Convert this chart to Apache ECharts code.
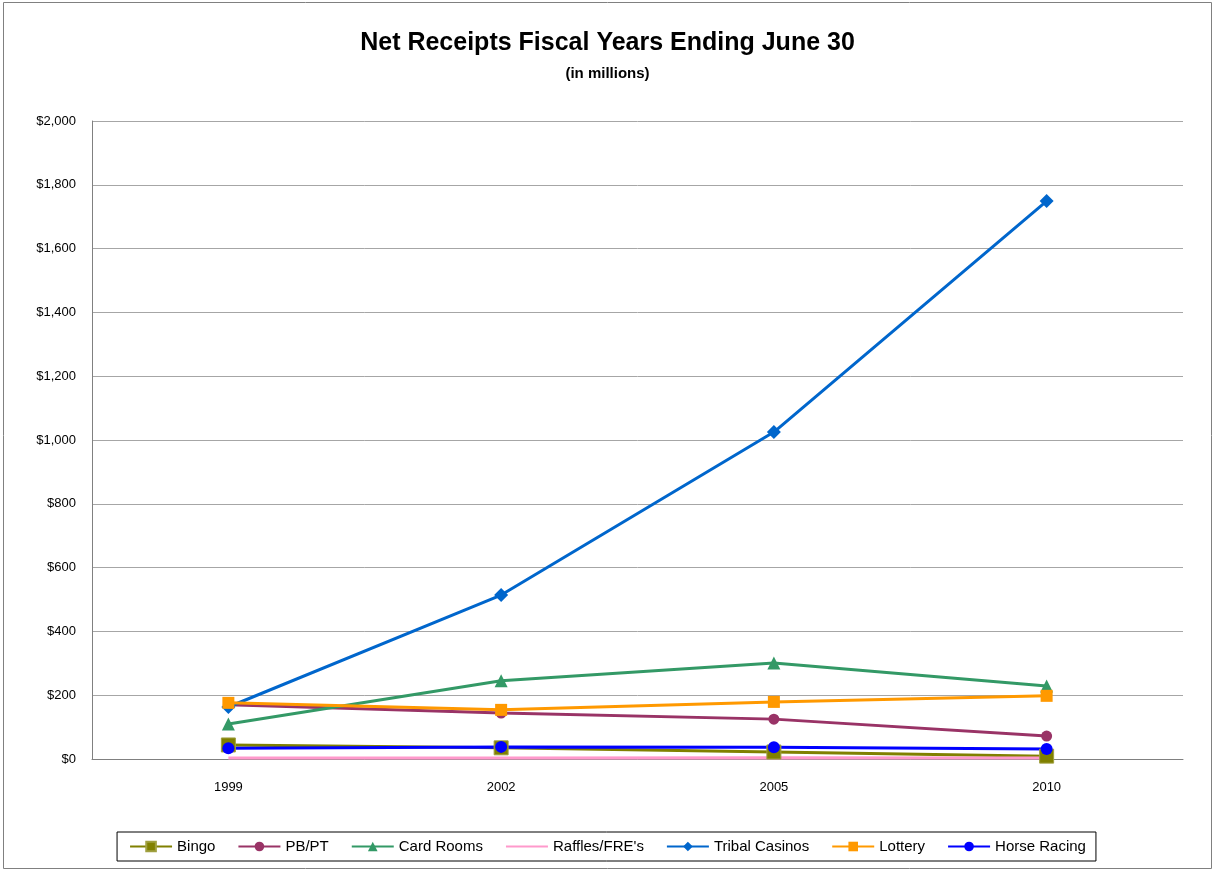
<!DOCTYPE html>
<html>
<head>
<meta charset="utf-8">
<script src="https://cdn.jsdelivr.net/npm/echarts@6/dist/echarts.min.js"></script>
<style>
  html, body { margin: 0; padding: 0; background: #fff; }
  #chart { width: 1215px; height: 871px; }
</style>
</head>
<body>
<div id="chart"></div>
<script>
// Fiscal years (category axis)
const years = ['1999', '2002', '2005', '2010'];

// Net receipts per gaming category, in millions of dollars
const bingo        = [44, 35, 22, 9];
const pbpt         = [170, 144, 125, 72];
const cardRooms    = [110, 245, 301, 229];
const raffles      = [3, 3, 4, 3];
const tribalCasino = [163, 514, 1025, 1749];
const lottery      = [176, 154, 179, 198];
const horseRacing  = [34, 38, 37, 31];

// Y axis ticks
const yMin = 0, yMax = 2000, yStep = 200;

const FONT = '"Liberation Sans", "Open Sans", sans-serif';

function lineSeries(name, data, color, symbol, size, extra) {
  return Object.assign({
    name: name,
    type: 'line',
    data: data,
    symbol: symbol,
    symbolSize: size,
    showAllSymbol: true,
    lineStyle: { color: color, width: 3 },
    itemStyle: { color: color, borderWidth: 0 },
    emphasis: { disabled: true },
    animation: false
  }, extra || {});
}

const chart = echarts.init(document.getElementById('chart'), null, { renderer: 'canvas' });

chart.setOption({
  backgroundColor: '#ffffff',
  animation: false,
  title: {
    text: 'Net Receipts Fiscal Years Ending June 30',
    subtext: '(in millions)',
    left: 'center',
    top: 26,
    itemGap: 10,
    textStyle: { fontFamily: FONT, fontSize: 25, fontWeight: 'bold', color: '#000' },
    subtextStyle: { fontFamily: FONT, fontSize: 15, fontWeight: 'bold', color: '#000' }
  },
  graphic: [{
    type: 'rect',
    shape: { x: 3.5, y: 2.5, width: 1208, height: 866 },
    style: { fill: 'none', stroke: '#808080', lineWidth: 1 },
    silent: true,
    z: -1
  }],
  grid: { left: 92, right: 32, top: 121, bottom: 112, containLabel: false },
  xAxis: {
    type: 'category',
    data: years,
    boundaryGap: true,
    axisLine: { show: true, lineStyle: { color: '#808080', width: 1 } },
    axisTick: { show: false },
    axisLabel: { fontFamily: FONT, fontSize: 13, color: '#000', margin: 22 }
  },
  yAxis: {
    type: 'value',
    min: yMin,
    max: yMax,
    interval: yStep,
    axisLine: { show: true, lineStyle: { color: '#808080', width: 1 } },
    axisTick: { show: false },
    splitLine: { show: true, lineStyle: { color: '#a6a6a6', width: 1 } },
    axisLabel: {
      fontFamily: FONT, fontSize: 13, color: '#000', margin: 16,
      formatter: v => '$' + v.toLocaleString('en-US')
    }
  },
  legend: {
    bottom: 10,
    left: 'center',
    itemWidth: 42,
    itemHeight: 12,
    itemGap: 22,
    padding: [7, 10, 7, 12],
    borderColor: '#000',
    borderWidth: 1,
    textStyle: { fontFamily: FONT, fontSize: 15, color: '#000' },
    data: [
      'Bingo', 'PB/PT', 'Card Rooms',
      { name: "Raffles/FRE's", itemStyle: { opacity: 0 } },
      'Tribal Casinos', 'Lottery', 'Horse Racing'
    ]
  },
  series: [
    lineSeries('Bingo', bingo, '#808000', 'rect', 14, { itemStyle: { color: '#808000', borderColor: '#a0a040', borderWidth: 1 } }),
    lineSeries('PB/PT', pbpt, '#993366', 'circle', 11),
    lineSeries('Card Rooms', cardRooms, '#339966', 'triangle', 13),
    lineSeries("Raffles/FRE's", raffles, '#FF99CC', 'none', 0),
    lineSeries('Tribal Casinos', tribalCasino, '#0066CC', 'diamond', 14),
    lineSeries('Lottery', lottery, '#FF9900', 'rect', 12),
    lineSeries('Horse Racing', horseRacing, '#0000FF', 'circle', 12)
  ]
});
</script>
</body>
</html>
